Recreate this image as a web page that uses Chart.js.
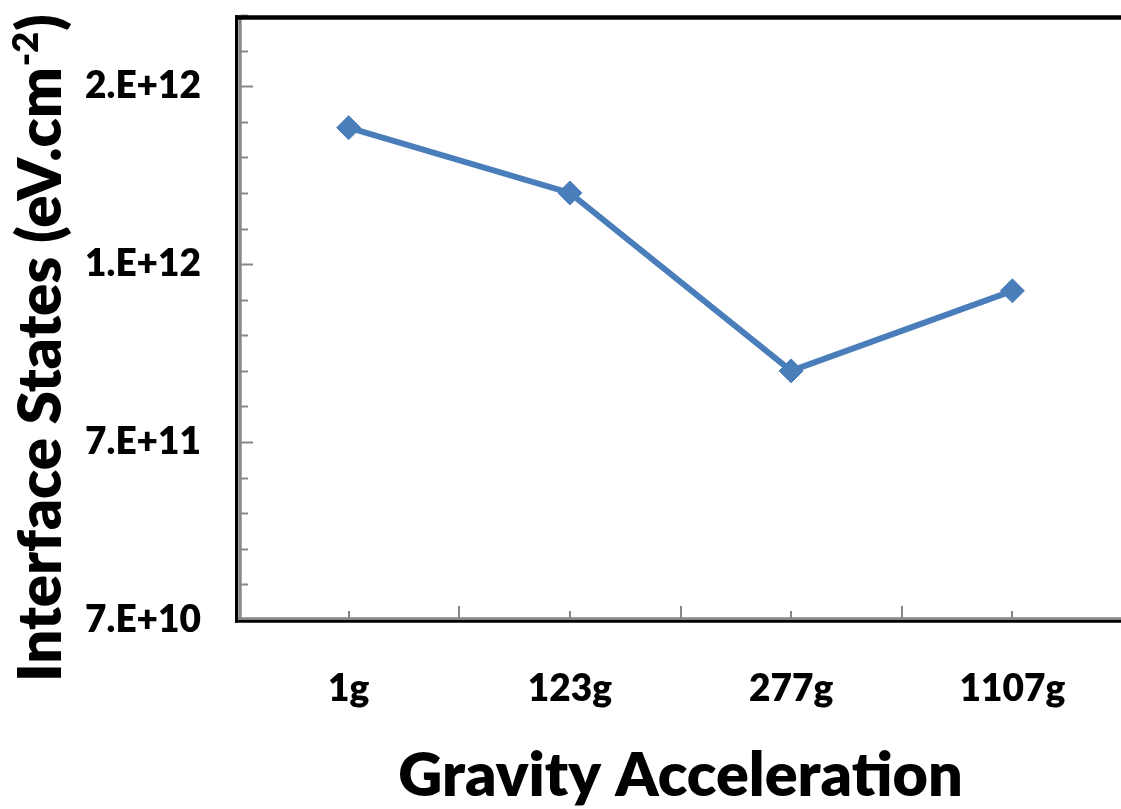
<!DOCTYPE html>
<html>
<head>
<meta charset="utf-8">
<script src="https://cdn.jsdelivr.net/npm/chart.js@4.4.1/dist/chart.umd.min.js"></script>
<style>
  html, body { margin: 0; padding: 0; background: #ffffff; }
  #wrap { position: relative; width: 1121px; height: 809px; overflow: hidden; }
  canvas { display: block; position: absolute; left: 0; top: 0; }
</style>
</head>
<body>
<div id="wrap"><canvas id="chart" width="1136" height="809"></canvas></div>
<script>
// Categories and measured interface state density
const categories = ['1g', '123g', '277g', '1107g'];
const interfaceStates = [1.73e12, 1.51e12, 9.1e11, 1.18e12];

// Value axis: start, major unit and labelled major tick values
const yAxisMin = 7e10;
const yAxisStep = 6e11;
const yAxisMax = 2.11e12;
const yTickValues = [7e10, 6.7e11, 1.27e12, 1.87e12];
const yMinorPerMajor = 5;

// Axis titles
const xTitle = 'Gravity Acceleration';
const yTitleParts = ['Interface States (eV.cm', '-2', ')'];

const FONT = 'Lato, "Open Sans", sans-serif';
const WEIGHT = '800';
const AXIS_GRAY = '#878787';
const LINE_BLUE = '#4a7ebb';

// Excel-style "0.E+00" number format
function sciLabel(v) {
  let e = Math.floor(Math.log10(v));
  let m = Math.round(v / Math.pow(10, e));
  if (m >= 10) { m = 1; e += 1; }
  return m + '.E+' + String(e).padStart(2, '0');
}

function seg(ctx, x1, y1, x2, y2) {
  ctx.beginPath();
  ctx.moveTo(x1, y1);
  ctx.lineTo(x2, y2);
  ctx.stroke();
}

// Inward tick marks, axis lines, plot frame and the rotated value-axis title
const framePlugin = {
  id: 'framePlugin',
  beforeDatasetsDraw(chart) {
    const { ctx, chartArea: a, scales: { x, y } } = chart;
    ctx.save();
    ctx.strokeStyle = AXIS_GRAY;
    ctx.lineWidth = 2;

    // value axis ticks (major every yMinorPerMajor minor steps)
    const minorStep = yAxisStep / yMinorPerMajor;
    for (let i = 1; yAxisMin + i * minorStep <= y.max + 1; i++) {
      const py = Math.round(y.getPixelForValue(yAxisMin + i * minorStep)) + 0.5;
      const len = (i % yMinorPerMajor === 0) ? 12 : 7;
      seg(ctx, a.left + 3, py, a.left + 3 + len, py);
    }

    // category axis: minor ticks at categories, major ticks between them
    for (let i = 0; i < categories.length; i++) {
      const px = Math.round(x.getPixelForValue(i));
      seg(ctx, px, a.bottom - 2, px, a.bottom - 9);
      if (i < categories.length - 1) {
        const pb = Math.round((x.getPixelForValue(i) + x.getPixelForValue(i + 1)) / 2);
        seg(ctx, pb, a.bottom - 2, pb, a.bottom - 14);
      }
    }

    // gray axis lines
    ctx.lineWidth = 3.4;
    seg(ctx, a.left + 2, a.top, a.left + 2, a.bottom);
    ctx.lineWidth = 2.7;
    seg(ctx, a.left, a.bottom - 1.3, a.right, a.bottom - 1.3);
    ctx.restore();
  },
  afterDraw(chart) {
    const { ctx, chartArea: a } = chart;
    ctx.save();
    // black plot frame
    ctx.strokeStyle = '#000000';
    ctx.lineWidth = 4.5;
    seg(ctx, a.left - 3, a.top + 2.4, a.right + 3, a.top + 2.4);
    ctx.lineWidth = 3;
    seg(ctx, a.left - 1.5, a.top + 0.2, a.left - 1.5, a.bottom + 2.7);
    ctx.lineWidth = 2.7;
    seg(ctx, a.left - 3, a.bottom + 1.35, a.right + 3, a.bottom + 1.35);
    seg(ctx, a.right + 1.35, a.top, a.right + 1.35, a.bottom + 2.7);

    // rotated value-axis title with superscript
    const mainFont = WEIGHT + ' 60px ' + FONT;
    const supFont = WEIGHT + ' 36px ' + FONT;
    ctx.font = mainFont;
    const w0 = ctx.measureText(yTitleParts[0]).width;
    const w2 = ctx.measureText(yTitleParts[2]).width;
    ctx.font = supFont;
    const w1 = ctx.measureText(yTitleParts[1]).width;
    const total = w0 + w1 + w2;
    ctx.translate(61, 349);
    ctx.rotate(-Math.PI / 2);
    ctx.fillStyle = '#000000';
    ctx.textBaseline = 'alphabetic';
    ctx.textAlign = 'left';
    let tx = -total / 2;
    ctx.font = mainFont;
    ctx.fillText(yTitleParts[0], tx, 0);
    tx += w0;
    ctx.font = supFont;
    ctx.fillText(yTitleParts[1], tx + 1, -23);
    tx += w1 + 2;
    ctx.font = mainFont;
    ctx.fillText(yTitleParts[2], tx, 0);
    ctx.restore();
  }
};

new Chart(document.getElementById('chart'), {
  type: 'line',
  data: {
    labels: categories,
    datasets: [{
      data: interfaceStates,
      borderColor: LINE_BLUE,
      backgroundColor: LINE_BLUE,
      borderWidth: 6,
      tension: 0,
      pointStyle: 'rectRot',
      pointRadius: 12,
      pointBorderWidth: 1,
      pointBackgroundColor: LINE_BLUE,
      pointBorderColor: LINE_BLUE,
      clip: false
    }]
  },
  options: {
    responsive: false,
    animation: false,
    devicePixelRatio: 1,
    layout: { padding: { top: 15, right: 10, bottom: 0, left: 0 } },
    plugins: {
      legend: { display: false },
      tooltip: { enabled: false },
      title: { display: false }
    },
    scales: {
      x: {
        type: 'category',
        offset: true,
        border: { display: false },
        grid: { display: false, drawTicks: false },
        ticks: {
          color: '#000000',
          padding: 47,
          maxRotation: 0,
          autoSkip: false,
          font: { family: FONT, size: 37, weight: WEIGHT }
        },
        title: {
          display: true,
          text: xTitle,
          color: '#000000',
          padding: { top: 0, bottom: -4 },
          font: { family: FONT, size: 61, weight: WEIGHT }
        },
        afterFit(scale) {
          scale.height = 189;
          scale.paddingLeft = 0;
          scale.paddingRight = 0;
        }
      },
      y: {
        type: 'linear',
        min: yAxisMin,
        max: yAxisMax,
        border: { display: false },
        grid: { display: false, drawTicks: false },
        afterBuildTicks(scale) {
          scale.ticks = yTickValues.map(v => ({ value: v }));
        },
        ticks: {
          color: '#000000',
          padding: 37,
          font: { family: FONT, size: 37, weight: WEIGHT },
          callback: (v) => sciLabel(v)
        },
        afterFit(scale) {
          scale.width = 238;
          scale.paddingTop = 0;
          scale.paddingBottom = 0;
        }
      }
    }
  },
  plugins: [framePlugin]
});
</script>
</body>
</html>
